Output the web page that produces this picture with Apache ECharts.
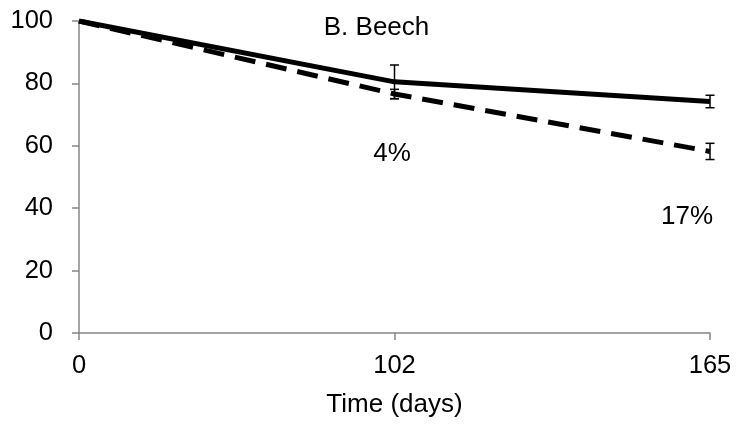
<!DOCTYPE html>
<html><head><meta charset="utf-8">
<script src="https://cdn.jsdelivr.net/npm/echarts@6/dist/echarts.min.js"></script>
<style>html,body{margin:0;padding:0;background:#fff}#c{width:738px;height:424px}</style>
</head><body><div id="c"></div>
<script>
var categories = ['0', '102', '165'];
var solidValues = [100, 80.5, 74.2];
var solidErr = [0, 5.4, 2.0];
var dashedValues = [100, 76.6, 58.2];
var dashedErr = [0, 1.5, 2.6];
var yTicks = [0, 20, 40, 60, 80, 100];

function errData(vals, errs) {
  var out = [];
  for (var i = 0; i < vals.length; i++) {
    if (errs[i] > 0) out.push([i, vals[i] - errs[i], vals[i] + errs[i]]);
  }
  return out;
}
function errRender(params, api) {
  var lo = api.coord([api.value(0), api.value(1)]);
  var hi = api.coord([api.value(0), api.value(2)]);
  var w = 4.5;
  var st = {stroke: '#000', lineWidth: 1.5};
  return {type: 'group', children: [
    {type: 'line', shape: {x1: lo[0], y1: lo[1], x2: hi[0], y2: hi[1]}, style: st},
    {type: 'line', shape: {x1: lo[0] - w, y1: lo[1], x2: lo[0] + w, y2: lo[1]}, style: st},
    {type: 'line', shape: {x1: hi[0] - w, y1: hi[1], x2: hi[0] + w, y2: hi[1]}, style: st}
  ]};
}
var FF = '"Liberation Sans", Arial, sans-serif';
var chart = echarts.init(document.getElementById('c'));
var tick = {fontFamily: FF, fontSize: 25.5, color: '#000'};
chart.setOption({
  animation: false,
  grid: {left: 79, right: 28, top: 21, bottom: 91, containLabel: false},
  xAxis: {
    type: 'category', data: categories, boundaryGap: false,
    name: 'Time (days)', nameLocation: 'middle', nameGap: 59,
    nameTextStyle: {fontFamily: FF, fontSize: 26, color: '#000'},
    axisLine: {lineStyle: {color: '#868686', width: 1.5}},
    axisTick: {show: true, alignWithLabel: true, length: 7, lineStyle: {color: '#868686', width: 1.5}},
    axisLabel: Object.assign({margin: 20}, tick),
    splitLine: {show: false}
  },
  yAxis: {
    type: 'value', min: 0, max: 100, interval: 20,
    axisLine: {show: true, lineStyle: {color: '#868686', width: 1.5}},
    axisTick: {show: true, length: 7, lineStyle: {color: '#868686', width: 1.5}},
    axisLabel: Object.assign({margin: 26}, tick),
    splitLine: {show: false}
  },
  series: [
    {type: 'line', data: solidValues, symbol: 'none', lineStyle: {color: '#000', width: 5}, z: 3},
    {type: 'line', data: dashedValues, symbol: 'none', lineStyle: {color: '#000', width: 5, type: [21, 11]}, z: 3},
    {type: 'custom', data: errData(solidValues, solidErr), renderItem: errRender, z: 4},
    {type: 'custom', data: errData(dashedValues, dashedErr), renderItem: errRender, z: 4}
  ],
  graphic: [
    {type: 'text', x: 376.5, y: 28, style: {text: 'B. Beech', font: '26px ' + FF, fill: '#000', align: 'center', verticalAlign: 'middle'}},
    {type: 'text', x: 392, y: 154, style: {text: '4%', font: '26px ' + FF, fill: '#000', align: 'center', verticalAlign: 'middle'}},
    {type: 'text', x: 687, y: 217, style: {text: '17%', font: '26px ' + FF, fill: '#000', align: 'center', verticalAlign: 'middle'}}
  ]
});
</script></body></html>
